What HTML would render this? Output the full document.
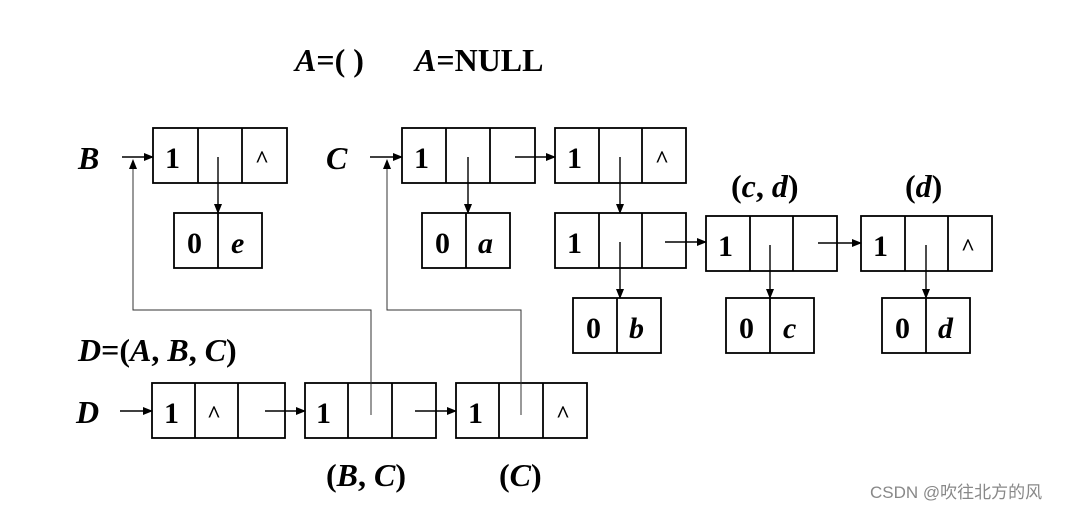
<!DOCTYPE html>
<html><head><meta charset="utf-8"><style>
body{margin:0;width:1078px;height:510px;background:#fff;overflow:hidden}
text{font-family:"Liberation Serif",serif;font-weight:bold;fill:#000}
</style></head><body>
<svg width="1078" height="510" xmlns="http://www.w3.org/2000/svg">
<defs><marker id="a" markerWidth="10" markerHeight="8" refX="9" refY="4" orient="auto" markerUnits="userSpaceOnUse"><path d="M0,0 L10,4 L0,8 z" fill="#000"/></marker></defs>
<g font-size="32">
<text x="295" y="71"><tspan font-style="italic">A</tspan>=( )</text>
<text x="415" y="71"><tspan font-style="italic">A</tspan>=NULL</text>
<text x="78" y="169" font-style="italic">B</text>
<text x="326" y="169" font-style="italic">C</text>
<text x="731" y="197">(<tspan font-style="italic">c</tspan>, <tspan font-style="italic">d</tspan>)</text>
<text x="905" y="197">(<tspan font-style="italic">d</tspan>)</text>
<text x="78" y="361"><tspan font-style="italic">D</tspan>=(<tspan font-style="italic">A</tspan>, <tspan font-style="italic">B</tspan>, <tspan font-style="italic">C</tspan>)</text>
<text x="76" y="423" font-style="italic">D</text>
<text x="326" y="486">(<tspan font-style="italic">B</tspan>, <tspan font-style="italic">C</tspan>)</text>
<text x="499" y="486">(<tspan font-style="italic">C</tspan>)</text>
</g>
<g fill="none" stroke="#000" stroke-width="1.8">
<rect x="153" y="128" width="134" height="55"/><line x1="198" y1="128" x2="198" y2="183"/><line x1="242" y1="128" x2="242" y2="183"/>
<rect x="174" y="213" width="88" height="55"/><line x1="218" y1="213" x2="218" y2="268"/>
<rect x="402" y="128" width="133" height="55"/><line x1="446" y1="128" x2="446" y2="183"/><line x1="490" y1="128" x2="490" y2="183"/>
<rect x="555" y="128" width="131" height="55"/><line x1="599" y1="128" x2="599" y2="183"/><line x1="642" y1="128" x2="642" y2="183"/>
<rect x="422" y="213" width="88" height="55"/><line x1="466" y1="213" x2="466" y2="268"/>
<rect x="555" y="213" width="131" height="55"/><line x1="599" y1="213" x2="599" y2="268"/><line x1="642" y1="213" x2="642" y2="268"/>
<rect x="706" y="216" width="131" height="55"/><line x1="750" y1="216" x2="750" y2="271"/><line x1="793" y1="216" x2="793" y2="271"/>
<rect x="861" y="216" width="131" height="55"/><line x1="905" y1="216" x2="905" y2="271"/><line x1="948" y1="216" x2="948" y2="271"/>
<rect x="573" y="298" width="88" height="55"/><line x1="617" y1="298" x2="617" y2="353"/>
<rect x="726" y="298" width="88" height="55"/><line x1="770" y1="298" x2="770" y2="353"/>
<rect x="882" y="298" width="88" height="55"/><line x1="926" y1="298" x2="926" y2="353"/>
<rect x="152" y="383" width="133" height="55"/><line x1="195" y1="383" x2="195" y2="438"/><line x1="238" y1="383" x2="238" y2="438"/>
<rect x="305" y="383" width="131" height="55"/><line x1="348" y1="383" x2="348" y2="438"/><line x1="392" y1="383" x2="392" y2="438"/>
<rect x="456" y="383" width="131" height="55"/><line x1="499" y1="383" x2="499" y2="438"/><line x1="543" y1="383" x2="543" y2="438"/>
</g>
<g stroke="#000" stroke-width="1.4" fill="none" marker-end="url(#a)">
<line x1="122" y1="157" x2="153" y2="157"/>
<line x1="370" y1="157" x2="402" y2="157"/>
<line x1="218" y1="157" x2="218" y2="213"/>
<line x1="468" y1="157" x2="468" y2="213"/>
<line x1="515" y1="157" x2="555" y2="157"/>
<line x1="620" y1="157" x2="620" y2="213"/>
<line x1="665" y1="242" x2="706" y2="242"/>
<line x1="818" y1="243" x2="861" y2="243"/>
<line x1="620" y1="242" x2="620" y2="298"/>
<line x1="770" y1="245" x2="770" y2="298"/>
<line x1="926" y1="245" x2="926" y2="298"/>
<line x1="120" y1="411" x2="152" y2="411"/>
<line x1="265" y1="411" x2="305" y2="411"/>
<line x1="415" y1="411" x2="456" y2="411"/>
</g>
<g stroke="#333" stroke-width="1" fill="none" marker-end="url(#a)">
<polyline points="371,415 371,310 133,310 133,160"/>
<polyline points="521,415 521,310 387,310 387,160"/>
</g>
<g font-size="30">
<text x="165" y="168">1</text><text x="255" y="167" font-size="24">^</text>
<text x="187" y="253">0</text><text x="231" y="253" font-style="italic">e</text>
<text x="414" y="168">1</text>
<text x="567" y="168">1</text><text x="655" y="167" font-size="24">^</text>
<text x="435" y="253">0</text><text x="478" y="253" font-style="italic">a</text>
<text x="567" y="253">1</text>
<text x="718" y="256">1</text>
<text x="873" y="256">1</text><text x="961" y="255" font-size="24">^</text>
<text x="586" y="338">0</text><text x="629" y="338" font-style="italic">b</text>
<text x="739" y="338">0</text><text x="783" y="338" font-style="italic">c</text>
<text x="895" y="338">0</text><text x="938" y="338" font-style="italic">d</text>
<text x="164" y="423">1</text><text x="207" y="422" font-size="24">^</text>
<text x="316" y="423">1</text>
<text x="468" y="423">1</text><text x="556" y="422" font-size="24">^</text>
</g>
<text x="870" y="498" font-size="17" style="font-family:'Liberation Sans','Noto Sans CJK SC',sans-serif;font-weight:normal;fill:#888">CSDN @吹往北方的风</text>
</svg>
</body></html>
